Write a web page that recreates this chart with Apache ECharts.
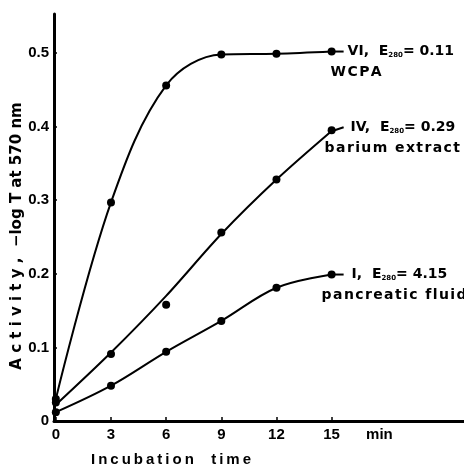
<!DOCTYPE html>
<html>
<head>
<meta charset="utf-8">
<script src="https://cdn.jsdelivr.net/npm/echarts@6/dist/echarts.min.js"></script>
<style>
  html, body { margin: 0; padding: 0; background: #fff; }
</style>
</head>
<body>
<div id="chart" style="width:464px;height:468px;"></div>
<script>
// incubation times (min)
let times = [0, 3, 6, 9, 12, 15]
let xTickValues = [0, 3, 6, 9, 12, 15]
let xLabelValues = [0, 3, 6, 9, 12, 15, 17.6]

// measured points, -log T at 570 nm
let wcpa = [0.03, 0.297, 0.456, 0.498, 0.499, 0.502]
let barium = [0.025, 0.091, 0.158, 0.256, 0.328, 0.395]
let barium_fit = [0.022, 0.093, 0.170, 0.254, 0.328, 0.394]
let pancreatic = [0.012, 0.048, 0.094, 0.136, 0.181, 0.199]

let curveLabels = [
  { name: 'VI', e: '0.11', sub: 'WCPA' },
  { name: 'IV', e: '0.29', sub: 'barium extract' },
  { name: 'I', e: '4.15', sub: 'pancreatic fluid' },
]

const font = 'Liberation Sans, Arial, sans-serif'
const font2 = 'DejaVu Sans, sans-serif'
const pairs = (ys) => times.map((t, i) => [t, ys[i]])

let option = {
  backgroundColor: '#fff',
  animation: false,
  grid: { left: 54, right: 0, top: 14, bottom: 47 },
  xAxis: {
    type: 'value',
    min: -0.1,
    max: 22.2,
    axisLine: { onZero: false, lineStyle: { color: '#000', width: 3 } },
    axisTick: { show: true, inside: true, length: 4, customValues: xTickValues,
      lineStyle: { color: '#000', width: 1.5 } },
    splitLine: { show: false },
    axisLabel: {
      customValues: xLabelValues,
      margin: 6,
      color: '#000', fontFamily: font, fontWeight: 'bold', fontSize: 15,
      formatter: (v) => (v > 16 ? 'min' : String(v)),
    },
  },
  yAxis: {
    type: 'value',
    min: 0,
    max: 0.553,
    interval: 0.1,
    axisLine: { show: true, onZero: false, lineStyle: { color: '#000', width: 3 } },
    axisTick: { show: true, inside: true, length: 3, lineStyle: { color: '#000', width: 1.5 } },
    splitLine: { show: false },
    axisLabel: {
      showMaxLabel: false,
      margin: 5,
      color: '#000', fontFamily: font, fontWeight: 'bold', fontSize: 15,
      formatter: (v) => (v === 0 ? '0' : v.toFixed(1)),
    },
  },
  series: [
    {
      type: 'line', smooth: 0.35, data: pairs(wcpa),
      symbol: 'circle', symbolSize: 8,
      lineStyle: { color: '#000', width: 2 }, itemStyle: { color: '#000' },
    },
    {
      type: 'line', smooth: 0.3, data: pairs(barium_fit), showSymbol: false,
      lineStyle: { color: '#000', width: 2 },
    },
    {
      type: 'scatter', data: pairs(barium), symbolSize: 8, itemStyle: { color: '#000', opacity: 1 },
    },
    {
      type: 'line', smooth: 0.35, data: pairs(pancreatic),
      symbol: 'circle', symbolSize: 8,
      lineStyle: { color: '#000', width: 2 }, itemStyle: { color: '#000' },
    },
  ],
}

let chart = echarts.init(document.getElementById('chart'))
chart.setOption(option)

// curve labels placed next to the last point of each curve
let headOffset = [16, 19, 20]
let subOffset = [-1, -7, -10]
let lasts = [wcpa, barium, pancreatic].map((ys) => chart.convertToPixel({ gridIndex: 0 }, [15, ys[ys.length - 1]]))
let graphics = []
curveLabels.forEach((c, i) => {
  let [px, py] = lasts[i]
  let dy = i === 1 ? -3 : 0
  graphics.push({ type: 'line', shape: { x1: px + 3, y1: py, x2: px + 12, y2: py + dy },
    style: { stroke: '#000', lineWidth: 2 } })
  graphics.push({
    type: 'text', x: px + headOffset[i], y: py + dy, style: {
      text: '{t|' + c.name + ',  E}{s|280}{t|= ' + c.e + '}',
      verticalAlign: 'middle',
      rich: {
        t: { fontFamily: font2, fontWeight: 'bold', fontSize: 14, color: '#000' },
        s: { fontFamily: font2, fontWeight: 'bold', fontSize: 7, color: '#000', verticalAlign: 'bottom', padding: [7, 0, 0, 0] },
      },
    },
  })
  graphics.push({
    type: 'text', x: px + subOffset[i], y: py + dy + 21, style: {
      text: c.sub.split('').join('\u200A'), fill: '#000', font: 'bold 14px ' + font2, verticalAlign: 'middle',
    },
  })
})
graphics.push({
  type: 'text', x: 171, y: 460, style: {
    text: 'Incubation  time'.split('').join('\u2009'), fill: '#000', font: 'bold 15px ' + font,
    align: 'center', verticalAlign: 'middle',
  },
})
graphics.push({
  type: 'text', x: 17, y: 236, rotation: Math.PI / 2, style: {
    text: 'A c t i v i t y ,  \u2212log T at 570 nm', fill: '#000', font: 'bold 15px ' + font2,
    align: 'center', verticalAlign: 'middle',
  },
})
chart.setOption({ graphic: graphics })
</script>
</body>
</html>
